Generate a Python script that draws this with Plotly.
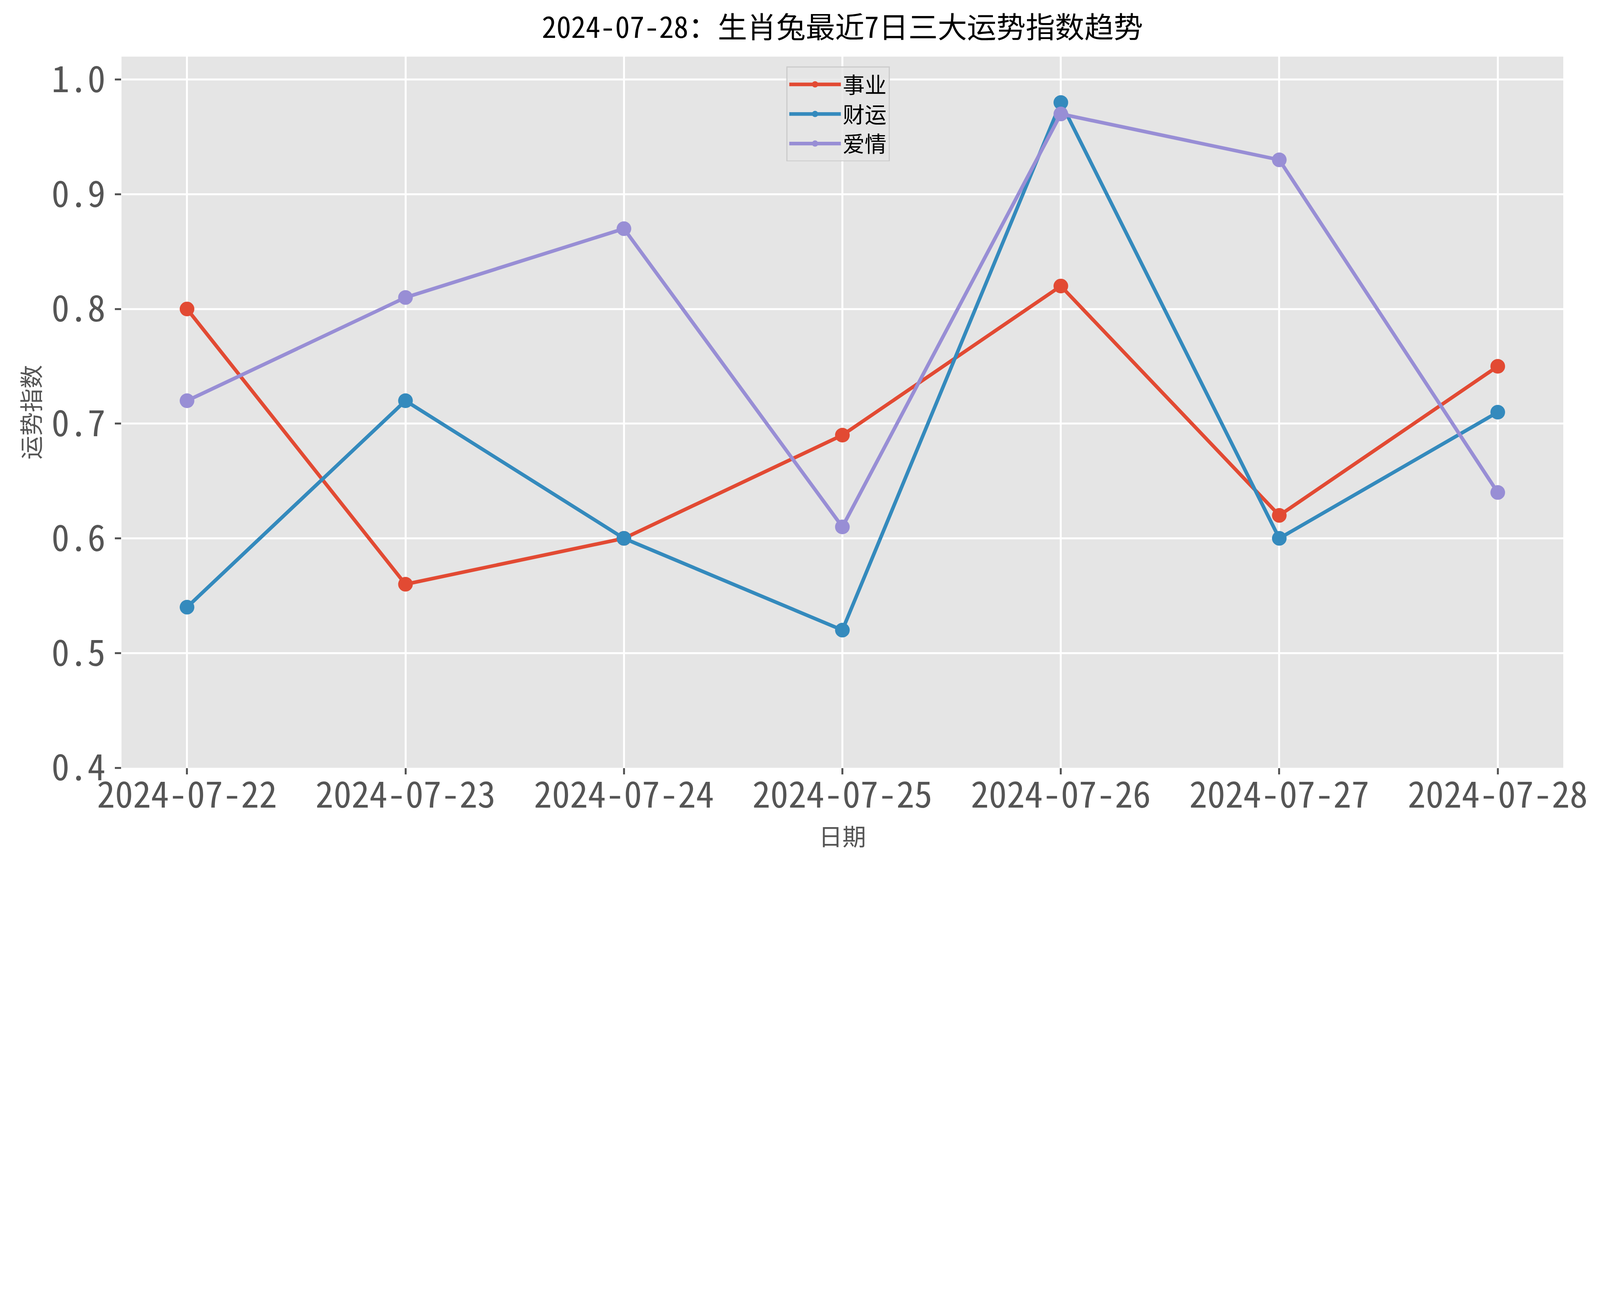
import plotly.graph_objects as go

# data
dates = ["2024-07-22", "2024-07-23", "2024-07-24", "2024-07-25",
         "2024-07-26", "2024-07-27", "2024-07-28"]
career = [0.80, 0.56, 0.60, 0.69, 0.82, 0.62, 0.75]
wealth = [0.54, 0.72, 0.60, 0.52, 0.98, 0.60, 0.71]
love = [0.72, 0.81, 0.87, 0.61, 0.97, 0.93, 0.64]
series_names = ["事业", "财运", "爱情"]
y_ticks = [0.4, 0.5, 0.6, 0.7, 0.8, 0.9, 1.0]
y_tick_text = ["0.4", "0.5", "0.6", "0.7", "0.8", "0.9", "1.0"]

colors = ["#E24A33", "#348ABD", "#988ED5"]
cjk = "Noto Sans Mono CJK SC, Noto Sans CJK SC, sans-serif"

# the page only gets ~4096 css px of width, so everything is measured in
# reference pixels (6195 wide) and scaled down to fit
REF_W, REF_H = 6195, 3334
S = 4080 / REF_W


def px(v):
    return v * S


W, H = round(px(REF_W)), round(px(REF_H))

fig = go.Figure()
for name, vals, c in zip(series_names, [career, wealth, love], colors):
    fig.add_trace(go.Scatter(
        x=dates, y=vals, name=name, mode="lines+markers",
        line=dict(color=c, width=px(14)),
        marker=dict(color=c, size=px(57)),
    ))

fig.update_layout(
    width=W, height=H,
    margin=dict(l=px(460), r=px(131), t=px(208), b=px(362)),
    paper_bgcolor="white",
    plot_bgcolor="#E5E5E5",
    font=dict(family=cjk, color="#555555"),
    title=dict(
        text="2024-07-28：生肖兔最近7日三大运势指数趋势",
        font=dict(size=px(114), color="black", family=cjk),
        x=0.5, xref="paper", xanchor="center",
        y=1 - 95 / REF_H, yref="container", yanchor="middle",
    ),
    legend=dict(
        x=0.497, xanchor="center", y=0.986, yanchor="top",
        bgcolor="rgba(229,229,229,0.8)",
        bordercolor="#CCCCCC", borderwidth=px(4),
        font=dict(size=px(85), color="black", family=cjk),
        itemsizing="trace", itemwidth=round(px(200)),
    ),
    showlegend=True,
)

fig.update_xaxes(
    type="category", range=[-0.3, 6.3],
    showgrid=True, gridcolor="white", gridwidth=px(7),
    showline=False, zeroline=False,
    ticks="outside", ticklen=px(25), tickwidth=px(7), tickcolor="#555555",
    tickfont=dict(size=px(140), color="#555555"),
    ticklabelstandoff=round(px(-40)),
    title=dict(text="日期", font=dict(size=px(92), color="#555555"), standoff=px(8)),
)
fig.update_yaxes(
    range=[0.4, 1.02],
    tickvals=y_ticks, ticktext=y_tick_text,
    showgrid=True, gridcolor="white", gridwidth=px(7),
    showline=False, zeroline=False,
    ticks="outside", ticklen=px(25), tickwidth=px(7), tickcolor="#555555",
    tickfont=dict(size=px(140), color="#555555"),
    ticklabelstandoff=round(px(7)),
    title=dict(text="运势指数", font=dict(size=px(92), color="#555555"), standoff=px(12)),
)

fig.write_html("out.html")
